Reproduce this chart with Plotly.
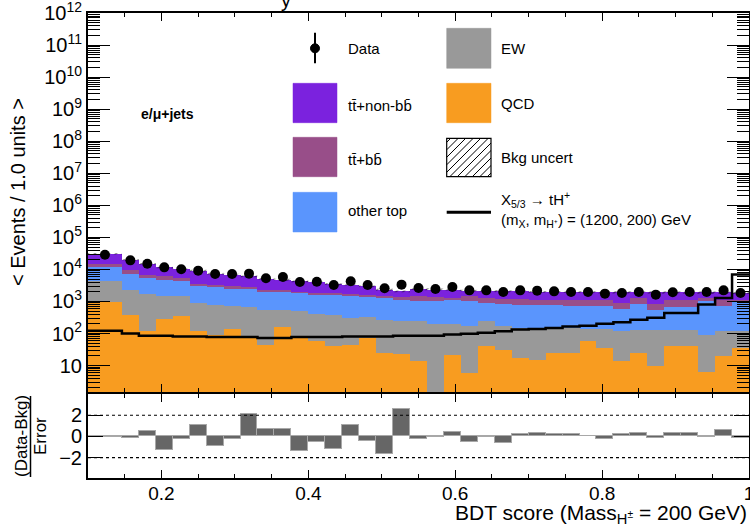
import numpy as np
import plotly.graph_objects as go

# ---------------- data ----------------
bin_w = 0.9 / 39
edges = np.concatenate([[0.1], 0.1 + bin_w * np.arange(2, 40)])
centers = (edges[:-1] + edges[1:]) / 2
widths = np.diff(edges)

qcd = [940, 388, 117, 291, 361, 117, 92, 139, 86, 45, 161, 74, 57, 42, 45, 73, 25, 23, 14, 1.0,
       22, 6, 42, 30, 17, 15, 24, 25, 60, 36, 14, 25, 10, 40, 40, 6.5, 19.5, 36]
ew = [3310, 1950, 1600, 1230, 1084, 783, 704, 602, 590, 485, 396, 419, 361, 346, 262, 257, 247, 217, 226, 203,
      178, 171, 198, 138, 133, 135, 118, 125, 82, 103, 103, 107, 122, 86, 86, 85, 97, 81]
other_top = [7650, 5040, 3700, 3280, 2805, 2065, 2044, 1770, 1784, 1540, 1513, 1352, 1215, 1245, 1245, 1115, 1016, 901, 822, 805,
             941, 885, 660, 687, 646, 630, 638, 591, 599, 602, 468, 723, 425, 550, 550, 917, 624, 823]
tt_bb = [2900, 1970, 1450, 1280, 1170, 555, 510, 455, 380, 270, 150, 185, 212, 212, 208, 188, 157, 246, 383, 378,
         148, 383, 389, 372, 431, 361, 361, 400, 400, 400, 315, 434, 298, 465, 465, 280, 345, 201]
tt_nonbb = [16200, 10850, 8230, 5520, 4930, 5640, 4030, 3905, 3240, 2810, 2580, 2220, 2110, 1675, 1590, 1332, 895, 683, 995, 953,
            1051, 732, 888, 843, 843, 844, 844, 844, 787, 787, 1028, 639, 1073, 787, 787, 639, 842, 704]
data = [28800, 19200, 15100, 11600, 10070, 9160, 7230, 7230, 7380, 5270, 5820, 4070, 4130, 3280, 4250, 3280, 2570, 3350, 2640, 2460,
        2840, 2220, 2220, 1985, 2220, 2177, 2070, 1985, 1985, 1755, 1845, 1985, 1633, 1928, 1985, 1985, 2220, 1845]
bkg_unc_rel = [0.05, 0.05, 0.05, 0.06, 0.06, 0.06, 0.06, 0.06, 0.06, 0.06, 0.07, 0.07, 0.07, 0.07, 0.07, 0.07, 0.07, 0.07, 0.07, 0.07,
               0.07, 0.07, 0.07, 0.07, 0.07, 0.07, 0.07, 0.07, 0.07, 0.07, 0.07, 0.07, 0.07, 0.07, 0.07, 0.07, 0.07, 0.07]
signal = [123, 100, 85, 85, 80, 80, 78, 78, 78, 73, 73, 78, 78, 78, 81, 81, 81, 85, 85, 85,
          93, 98, 105, 118, 133, 138, 148, 166, 176, 200, 224, 270, 308, 440, 440, 800, 1290, 6900]
ratio = [-0.05, -0.15, 0.55, -1.3, -0.2, 1.1, -0.9, -0.2, 2.1, 0.7, 0.7, -1.4, -0.5, -1.2, 1.05, -0.4, -1.7, 2.6, -0.2, -0.1,
         0.45, -0.5, -0.1, -0.65, 0.25, 0.3, 0.2, 0.2, 0.0, -0.25, 0.25, 0.35, -0.15, 0.35, 0.35, -0.1, 0.6, -0.15]

x_ticks = [0.2, 0.4, 0.6, 0.8, 1.0]
x_ticktext = ["0.2", "0.4", "0.6", "0.8", "1"]
y_exps = list(range(1, 13))
ratio_ticks = [-2, 0, 2]
ratio_ticktext = ["\u22122", "0", "2"]

C_NONBB = "#7b22de"
C_BB = "#984e89"
C_OTHER = "#5a95fd"
C_EW = "#999999"
C_QCD = "#f89c20"

FONT = "Liberation Sans, Arial, sans-serif"

# ---------------- figure ----------------
fig = go.Figure()
for vals, col in [(qcd, C_QCD), (ew, C_EW), (other_top, C_OTHER), (tt_bb, C_BB), (tt_nonbb, C_NONBB)]:
    fig.add_trace(go.Bar(x=centers, y=vals, width=widths, marker=dict(color=col, line=dict(width=0)),
                         xaxis="x", yaxis="y", showlegend=False, hoverinfo="skip"))

total = np.sum([qcd, ew, other_top, tt_bb, tt_nonbb], axis=0)
unc = total * np.array(bkg_unc_rel)
ux, uy, lx, ly = [], [], [], []
for i in range(len(total)):
    ux += [edges[i], edges[i + 1]]
    uy += [total[i] + unc[i]] * 2
    lx += [edges[i], edges[i + 1]]
    ly += [total[i] - unc[i]] * 2
fig.add_trace(go.Scatter(x=ux + lx[::-1], y=uy + ly[::-1], mode="lines", fill="toself",
                         fillcolor="rgba(0,0,0,0)", line=dict(width=0),
                         fillpattern=dict(shape="/", fgcolor="black", bgcolor="rgba(0,0,0,0)", size=5, solidity=0.3),
                         xaxis="x", yaxis="y", showlegend=False, hoverinfo="skip"))

fig.add_trace(go.Scatter(x=edges, y=list(signal) + [signal[-1]], mode="lines", line_shape="hv",
                         line=dict(color="black", width=2.5), xaxis="x", yaxis="y", showlegend=False))

fig.add_trace(go.Scatter(x=centers, y=data, mode="markers", marker=dict(size=10, color="black"),
                         error_y=dict(type="data", array=np.sqrt(data), color="black", thickness=1.5, width=0),
                         xaxis="x", yaxis="y", showlegend=False))

fig.add_trace(go.Bar(x=centers, y=ratio, width=widths, marker=dict(color="#666666", line=dict(color="#a8a8a8", width=1)),
                     xaxis="x2", yaxis="y2", showlegend=False))

# ---------------- layout ----------------
L, T, W, H = 88, 13, 661, 465
def X(px):
    return (px - L) / W
def Y(py):
    return (T + H - py) / H

minor_y = [m * 10 ** e for e in range(0, 12) for m in range(2, 10)]
axis_common = dict(showline=True, linewidth=2, linecolor="black", mirror="ticks", showgrid=False, zeroline=False,
                   automargin=False, ticks="inside", tickcolor="black", tickwidth=1.2, ticklabeloverflow="allow")

fig.update_layout(
    width=750, height=531, margin=dict(l=L, r=750 - L - W, t=T, b=531 - T - H, autoexpand=False),
    paper_bgcolor="white", plot_bgcolor="white", barmode="stack", bargap=0,
    font=dict(family=FONT, color="black"),
    xaxis=dict(domain=[0, 1], range=[0.1, 1.0], anchor="y", showticklabels=False, tickvals=x_ticks,
               ticklen=8, minor=dict(dtick=0.05, tick0=0, ticklen=4, ticks="inside", tickcolor="black"), **axis_common),
    yaxis=dict(domain=[0.185, 1], type="log", range=[np.log10(1.5), 12.0005], anchor="x",
               tickvals=[10 ** e for e in y_exps], ticktext=["10"] + ["10<sup>%d</sup>" % e for e in y_exps[1:]],
               tickfont=dict(family=FONT, size=20, color="black"),
               ticklen=22, minor=dict(tickvals=minor_y, ticklen=12, ticks="inside", tickcolor="black"), **axis_common),
    xaxis2=dict(domain=[0, 1], range=[0.1, 1.0], anchor="y2", tickvals=x_ticks, ticktext=x_ticktext,
                ticklabelstandoff=-3, tickfont=dict(family=FONT, size=19, color="black"),
                ticklen=8, minor=dict(dtick=0.05, tick0=0, ticklen=4, ticks="inside", tickcolor="black"), **axis_common),
    yaxis2=dict(domain=[0, 0.1806], range=[-3.92, 4.0], anchor="x2", tickvals=ratio_ticks, ticktext=ratio_ticktext,
                tickfont=dict(family=FONT, size=20, color="black"),
                ticklen=15, **axis_common),
)

shapes = []
for yv in [2, -2]:
    shapes.append(dict(type="line", xref="x2", yref="y2", x0=0.1, x1=1.0, y0=yv, y1=yv,
                       line=dict(color="black", width=1.2, dash="dot")))

# legend boxes
def box(x0, x1, y0, y1, col):
    shapes.append(dict(type="rect", xref="paper", yref="paper", x0=X(x0), x1=X(x1), y0=Y(y1), y1=Y(y0),
                       fillcolor=col, line=dict(color=col, width=0.5)))

box(293, 337, 83.3, 122.7, C_NONBB)
box(293, 337, 137.3, 176.7, C_BB)
box(293, 337, 192.3, 232, C_OTHER)
box(446.7, 491, 28.3, 68.3, C_EW)
box(446.7, 491, 83.3, 122.7, C_QCD)
# hatched box
hx0, hx1, hy0, hy1 = 446.7, 491, 138.3, 176.7
shapes.append(dict(type="rect", xref="paper", yref="paper", x0=X(hx0), x1=X(hx1), y0=Y(hy1), y1=Y(hy0),
                   fillcolor="white", line=dict(color="black", width=1.2)))
bw, bh = hx1 - hx0, hy1 - hy0
for c in np.arange(-bh + 4, bw, 7.5):
    u0 = max(0, c); u1 = min(bw, c + bh)
    if u1 <= u0:
        continue
    shapes.append(dict(type="line", xref="paper", yref="paper",
                       x0=X(hx0 + u0), y0=Y(hy1 - (u0 - c)), x1=X(hx0 + u1), y1=Y(hy1 - (u1 - c)),
                       line=dict(color="black", width=1)))
# signal legend line
shapes.append(dict(type="line", xref="paper", yref="paper", x0=X(446.7), x1=X(491), y0=Y(212.3), y1=Y(212.3),
                   line=dict(color="black", width=3)))
# data legend marker
shapes.append(dict(type="line", xref="paper", yref="paper", x0=X(315), x1=X(315), y0=Y(32.7), y1=Y(63.3),
                   line=dict(color="black", width=2)))
shapes.append(dict(type="circle", xref="paper", yref="paper", x0=X(310.5), x1=X(319.5), y0=Y(52.8), y1=Y(43.8),
                   fillcolor="black", line=dict(color="black", width=1)))
# ratio title fraction bar
shapes.append(dict(type="line", xref="paper", yref="paper", x0=X(30.5), x1=X(30.5), y0=Y(396), y1=Y(477),
                   line=dict(color="black", width=1.5)))

ann = []
def text(px, py, s, size=15, xanchor="left", angle=0, yanchor="middle"):
    ann.append(dict(xref="paper", yref="paper", x=X(px), y=Y(py), text=s, showarrow=False, xanchor=xanchor,
                    yanchor=yanchor, textangle=angle, font=dict(family=FONT, size=size, color="black")))

text(345.7, 48, "Data")
text(345.7, 105, "tt\u0304+non-bb\u0304")
text(345.7, 159, "tt\u0304+bb\u0304")
text(345.7, 210, "other top")
text(499, 48, "EW")
text(499, 103, "QCD")
text(499, 157, "Bkg uncert")
text(499, 199, "X<sub>5/3</sub> \u2192 tH<sup>+</sup>")
text(499, 221, "(m<sub>X</sub>, m<sub>H\u207a</sub>) = (1200, 200) GeV")
text(139, 114, "<b>e/\u03bc+jets</b>", size=14)
text(18, 192, "&lt; Events / 1.0 units &gt;", size=20, xanchor="center", angle=-90)
text(21, 436, "(Data-Bkg)", size=17, xanchor="center", angle=-90)
text(40, 436, "Error", size=17, xanchor="center", angle=-90)
text(748.6, 514, "BDT score (Mass<sub>H<sup>\u00b1</sup></sub> = 200 GeV)", size=21, xanchor="right")
text(286, 0, "y", size=20, xanchor="center")

fig.update_layout(shapes=shapes, annotations=ann)
fig.write_html("out.html", config={"displayModeBar": False},
               post_script="document.body.style.margin='0';document.body.style.padding='0';document.body.style.overflow='hidden';")
